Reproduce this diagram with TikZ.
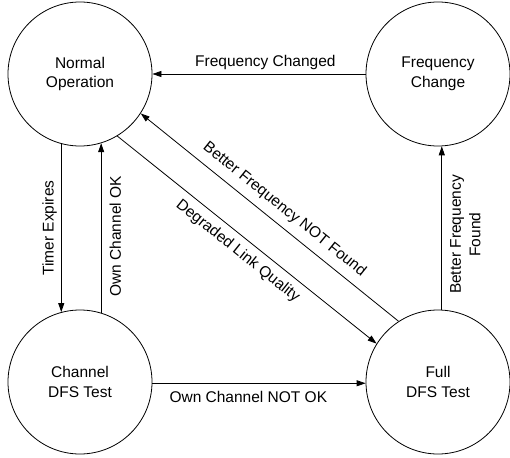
\documentclass[tikz,border=0pt]{standalone}
\usepackage{fontspec}
\setmainfont{Liberation Sans}
\usetikzlibrary{arrows.meta}
\begin{document}
\begin{tikzpicture}[x=1pt,y=-1pt,
  state/.style={draw, circle, minimum size=144pt, inner sep=0pt, align=center,
    font=\fontsize{15.5}{19.5}\selectfont, line width=0.8pt},
  trans/.style={line width=0.8pt, -{Triangle[length=9pt,width=6pt]}},
  lbl/.style={font=\fontsize{15.5}{19.5}\selectfont, inner sep=4pt, align=center}]
\useasboundingbox (0,0) rectangle (510,457);
\node[state] (no)  at (80,74)   {Normal\\Operation};
\node[state] (fc)  at (438,74)  {Frequency\\Change};
\node[state] (cdt) at (80,382)  {Channel\\DFS Test};
\node[state] (fdt) at (438,382) {Full\\DFS Test};

\draw[trans] (fc.west) -- (no.east)
  node[pos=0.47, lbl, above] {Frequency Changed};
\draw[trans] (cdt.-1.6) -- (fdt.181.6)
  node[pos=0.45, lbl, below, inner sep=8pt] {Own Channel NOT OK};
\draw[trans] (no.-105.3) -- (cdt.105.3)
  node[midway, lbl, rotate=90, anchor=south, inner sep=4pt] {Timer Expires};
\draw[trans] (cdt.73.9) -- (no.-73.9)
  node[pos=0.45, lbl, rotate=90, anchor=north, inner sep=8pt] {Own Channel OK};
\draw[trans] (fdt.87.6) -- (fc.-87.6)
  node[pos=0.46, lbl, rotate=90, anchor=north, inner sep=8pt] {Better Frequency\\Found};
\draw[trans] (no.-59.7) -- (fdt.148.2)
  node[midway, lbl, sloped, below, inner sep=7pt] {Degraded Link Quality};
\draw[trans] (fdt.123.7) -- (no.-33.5);
\path (no.-33.5) -- (fdt.123.7)
  node[pos=0.52, lbl, sloped, above, inner sep=8pt] {Better Frequency NOT Found};
\end{tikzpicture}
\end{document}
